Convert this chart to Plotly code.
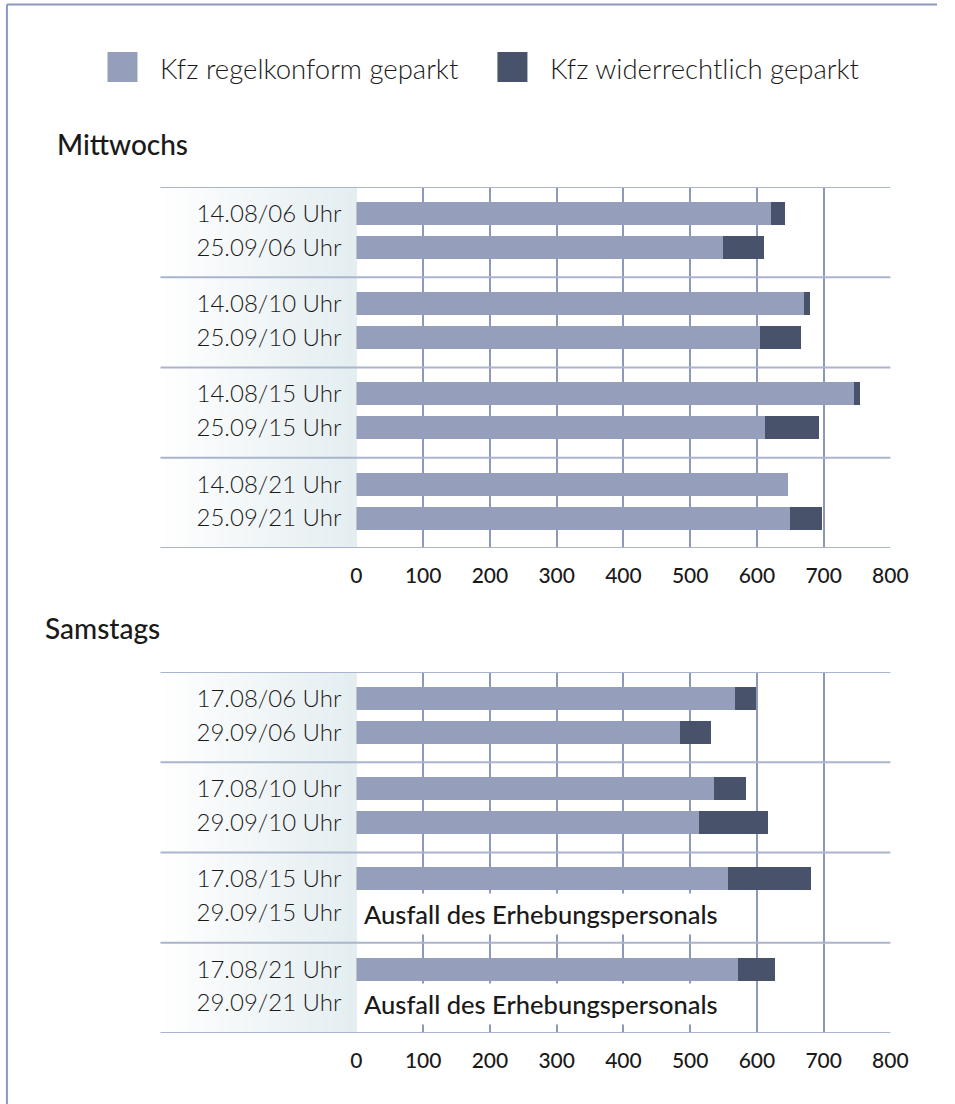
import plotly.graph_objects as go

# ---------------- data ----------------
legend_names = ["Kfz regelkonform geparkt", "Kfz widerrechtlich geparkt"]
panel_titles = ["Mittwochs", "Samstags"]

wed_labels = ["14.08/06 Uhr", "25.09/06 Uhr", "14.08/10 Uhr", "25.09/10 Uhr",
              "14.08/15 Uhr", "25.09/15 Uhr", "14.08/21 Uhr", "25.09/21 Uhr"]
wed_legal = [622, 550, 671, 605, 746, 613, 647, 650]
wed_illegal = [21, 61, 9, 62, 9, 81, 0, 48]

sat_labels = ["17.08/06 Uhr", "29.09/06 Uhr", "17.08/10 Uhr", "29.09/10 Uhr",
              "17.08/15 Uhr", "29.09/15 Uhr", "17.08/21 Uhr", "29.09/21 Uhr"]
sat_legal = [568, 485, 536, 514, 557, None, 572, None]
sat_illegal = [32, 47, 48, 103, 125, None, 56, None]
missing_note = "Ausfall des Erhebungspersonals"

x_ticks = [0, 100, 200, 300, 400, 500, 600, 700, 800]

# ---------------- styling ----------------
W, H = 955, 1104
LIGHT = "#959eba"
DARK = "#48536b"
GRID = "#8c99bb"
SEP = "#aab4cc"
FRAME = "#8a98bf"
FONT = "Lato"
TXT = "#1a1a1a"

# the page is photographed slightly compressed horizontally; map target pixels
def px_x(p):
    return max(0.0, min(1.0, ((p - 5.5) / 0.975) / W))

def px_y(p):
    return 1 - p / H

PLOT_L, PLOT_R = 356, 890
LABEL_L = 160
panels = [
    dict(labels=wed_labels, legal=wed_legal, illegal=wed_illegal, top=187, bottom=548,
         title_x=55, title_y=144, xa="x", ya="y"),
    dict(labels=sat_labels, legal=sat_legal, illegal=sat_illegal, top=672, bottom=1033,
         title_x=43, title_y=628, xa="x2", ya="y2"),
]

def bar_pos(i):
    return i // 2 + 0.48 + (i % 2 - 0.5) * 0.376

fig = go.Figure()
shapes = []
annotations = []

for k, p in enumerate(panels):
    pos = [bar_pos(i) for i in range(len(p["labels"]))]
    fig.add_trace(go.Bar(y=pos, x=p["legal"], orientation="h", marker_color=LIGHT,
                         marker_line_width=0, width=0.255, name=legend_names[0],
                         showlegend=False, xaxis=p["xa"], yaxis=p["ya"]))
    fig.add_trace(go.Bar(y=pos, x=p["illegal"], orientation="h", marker_color=DARK,
                         marker_line_width=0, width=0.255, name=legend_names[1],
                         showlegend=False, xaxis=p["xa"], yaxis=p["ya"]))
    # gradient label area
    n = 40
    for s in range(n):
        t = s / (n - 1)
        r = int(255 + (228 - 255) * t)
        g = int(255 + (238 - 255) * t)
        b = int(255 + (241 - 255) * t)
        x0 = LABEL_L + (PLOT_L - LABEL_L) * s / n
        x1 = LABEL_L + (PLOT_L - LABEL_L) * (s + 1) / n + 0.6
        shapes.append(dict(type="rect", xref="paper", yref="paper",
                           x0=px_x(x0), x1=px_x(x1), y0=px_y(p["bottom"]), y1=px_y(p["top"]),
                           fillcolor=f"rgb({r},{g},{b})", line_width=0, layer="below"))
    # group separators
    for gy in range(5):
        shapes.append(dict(type="line", xref="paper", yref=p["ya"],
                           x0=px_x(LABEL_L), x1=px_x(PLOT_R), y0=gy, y1=gy,
                           line=dict(color=SEP, width=2), layer="above"))
    # missing-data notes
    for i, v in enumerate(p["legal"]):
        if v is None:
            annotations.append(dict(x=0, y=pos[i], xref=p["xa"], yref=p["ya"],
                                    text=missing_note, showarrow=False, xanchor="left",
                                    xshift=2, yshift=-1, bgcolor="white", borderpad=5,
                                    font=dict(family=FONT, size=25.5, color=TXT, weight=500)))
    annotations.append(dict(x=px_x(p["title_x"]), y=px_y(p["title_y"]), xref="paper",
                            yref="paper", text=panel_titles[k],
                            showarrow=False, xanchor="left", yanchor="middle",
                            font=dict(family=FONT, size=28, color=TXT, weight=500)))

# legend (drawn manually)
leg = [(107, 158, LIGHT, legend_names[0]), (497, 548, DARK, legend_names[1])]
for sx, tx, col, name in leg:
    shapes.append(dict(type="rect", xref="paper", yref="paper",
                       x0=px_x(sx), x1=px_x(sx + 30), y0=px_y(82), y1=px_y(52),
                       fillcolor=col, line_width=0))
    annotations.append(dict(x=px_x(tx), y=px_y(68), xref="paper", yref="paper", text=name,
                            showarrow=False, xanchor="left", yanchor="middle",
                            font=dict(family=FONT, size=27.5, color=TXT, weight=300)))

# outer frame
shapes.append(dict(type="line", xref="paper", yref="paper", x0=0.001, x1=1,
                   y0=px_y(4.5), y1=px_y(4.5), line=dict(color=FRAME, width=2)))
shapes.append(dict(type="line", xref="paper", yref="paper", x0=0.001, x1=0.001,
                   y0=0, y1=px_y(4.5), line=dict(color=FRAME, width=2)))

def xaxis_cfg(p):
    return dict(domain=[px_x(PLOT_L), px_x(PLOT_R)], range=[0, 800], tickvals=x_ticks,
                showgrid=True, gridcolor=GRID, gridwidth=1.5, zeroline=False,
                showline=False, ticks="", ticklabelstandoff=13,
                tickfont=dict(family=FONT, size=21, color=TXT, weight=500),
                anchor=p["ya"], fixedrange=True)

def yaxis_cfg(p):
    pos = [bar_pos(i) for i in range(len(p["labels"]))]
    return dict(domain=[px_y(p["bottom"]), px_y(p["top"])], range=[4, 0],
                tickvals=pos, ticktext=p["labels"], showgrid=False, zeroline=False,
                showline=False, ticks="", ticklabelstandoff=14,
                tickfont=dict(family=FONT, size=24, color=TXT, weight=300),
                anchor=p["xa"], fixedrange=True)

fig.update_layout(
    width=W, height=H, margin=dict(l=0, r=0, t=0, b=0),
    paper_bgcolor="white", plot_bgcolor="rgba(0,0,0,0)",
    barmode="stack", bargap=0,
    xaxis=xaxis_cfg(panels[0]), yaxis=yaxis_cfg(panels[0]),
    xaxis2=xaxis_cfg(panels[1]), yaxis2=yaxis_cfg(panels[1]),
    shapes=shapes, annotations=annotations, showlegend=False,
)

fig.write_html("out.html", config={"displayModeBar": False},
               post_script="document.body.style.margin='0';document.body.style.overflow='hidden';")
